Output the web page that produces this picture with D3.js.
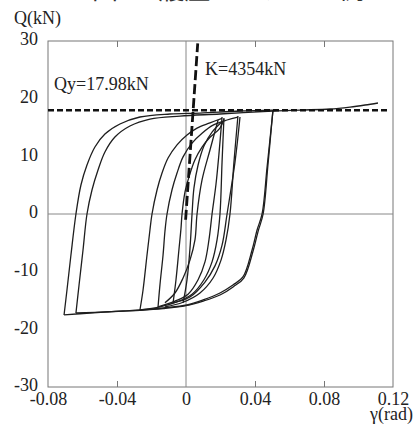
<!DOCTYPE html>
<html><head><meta charset="utf-8">
<script src="https://cdn.jsdelivr.net/npm/d3@7"></script>
<style>
html,body{margin:0;padding:0;background:#fff;}
svg{display:block;}
</style></head>
<body>
<script>
// ---- data ----
const titleText = "図5　履歴ループの一例";
const xTicks = [-0.08, -0.04, 0, 0.04, 0.08, 0.12];
const xTickLabels = ["-0.08", "-0.04", "0", "0.04", "0.08", "0.12"];
const yTicks = [-30, -20, -10, 0, 10, 20, 30];
const yTickLabels = ["-30", "-20", "-10", "0", "10", "20", "30"];
const Qy = 17.98;
const K = 4354;
const kLineQ = [-1, 29.6];
// hysteresis branches [gamma(rad), Q(kN)]
const unloadBig1 = [[0.0504,17.86],[0.0470,8.15],[0.0441,0],[0.0412,-2.77],[0.0383,-6.24],[0.0330,-10.92],[0.0272,-12.31],[0.0197,-13.70],[0.0099,-14.91],[0.0006,-15.78],[-0.0133,-16.30],[-0.0267,-16.65],[-0.0365,-16.82],[-0.0557,-17.17],[-0.0707,-17.51]];
const reloadBig1 = [[-0.0707,-17.51],[-0.0690,-13.18],[-0.0667,-7.11],[-0.0638,0],[-0.0609,5.03],[-0.0574,8.50],[-0.0528,11.62],[-0.0470,13.87],[-0.0383,15.61],[-0.0267,16.82],[-0.0093,17.34],[0.0081,17.51],[0.0313,17.86],[0.0504,18.03]];
const unloadBig2 = [[0.0504,18.03],[0.0475,8.5],[0.0447,0],[0.0418,-3.0],[0.0388,-6.5],[0.0335,-11.1],[0.0275,-12.6],[0.0200,-14.0],[0.0100,-15.1],[0.0,-15.9],[-0.0133,-16.4],[-0.0267,-16.7],[-0.0450,-16.95],[-0.0638,-17.17]];
const reloadBig2 = [[-0.0638,-17.17],[-0.0620,-12.31],[-0.0597,-6.24],[-0.0574,0],[-0.0545,4.16],[-0.0510,7.63],[-0.0470,10.75],[-0.0412,13.35],[-0.0325,15.26],[-0.0209,16.47],[-0.0035,16.99],[0.0197,17.34],[0.0504,17.86],[0.0661,18.03],[0.0835,18.21],[0.0951,18.55],[0.1038,18.90],[0.1113,19.25]];
const reload1 = [[-0.0267,-16.65],[-0.0249,-13.18],[-0.0226,-7.11],[-0.0209,-2.77],[-0.0197,0],[-0.0168,4.16],[-0.0139,7.1],[-0.0104,9.7],[-0.0052,12.0],[0.0006,13.7],[0.0064,14.9],[0.0139,15.8],[0.0209,16.6]];
const reload2 = [[-0.0162,-16.13],[-0.0151,-12.3],[-0.0133,-7.1],[-0.0122,-3.0],[-0.0110,0],[-0.0081,4.2],[-0.0052,7.1],[-0.0017,9.9],[0.0035,12.3],[0.0093,14.0],[0.0157,15.4],[0.0238,16.3],[0.0301,16.8]];
const reload3 = [[-0.0075,-15.43],[-0.0058,-11.4],[-0.0041,-6.2],[-0.0029,-2.5],[-0.0023,0],[-0.0006,3.8],[0.0017,6.4],[0.0052,9.4],[0.0093,11.6],[0.0139,13.3],[0.0197,14.9],[0.0220,16.5]];
const reload4 = [[-0.0017,-15.43],[0.0006,-11.4],[0.0023,-6.0],[0.0035,0],[0.0046,4.5],[0.0070,8.5],[0.0104,11.8],[0.0151,14.2],[0.0209,16.0]];
const unload1 = [[0.0209,16.82],[0.0191,10.4],[0.0174,5.2],[0.0151,0],[0.0133,-4.5],[0.0110,-8.3],[0.0070,-11.4],[0.0012,-13.9],[-0.0064,-15.1],[-0.0162,-16.1]];
const unload2 = [[0.0220,16.65],[0.0209,9.0],[0.0197,0],[0.0180,-4.5],[0.0151,-8.3],[0.0104,-11.4],[0.0035,-13.9],[-0.0058,-15.3],[-0.0151,-16.1],[-0.0267,-16.65]];
const unload3 = [[0.0301,16.99],[0.0278,9.0],[0.0255,0],[0.0232,-4.5],[0.0203,-8.0],[0.0157,-11.1],[0.0081,-13.7],[-0.0017,-15.3],[-0.0122,-16.1]];
const unload4 = [[0.0313,16.82],[0.0284,9.0],[0.0238,0],[0.0209,-5.4],[0.0168,-9.0],[0.0110,-11.8],[0.0023,-14.4],[-0.0075,-15.43]];
const unload5 = [[0.0186,16.30],[0.0139,11.1],[0.0093,5.9],[0.0064,0],[0.0052,-4.5],[0.0023,-8.0],[-0.0017,-11.1],[-0.0064,-13.7],[-0.0122,-15.4]];
const branches = [unloadBig1, reloadBig1, unloadBig2, reloadBig2, reload1, reload2, reload3, reload4, unload1, unload2, unload3, unload4, unload5];

// ---- drawing ----
const SERIF = '"Liberation Serif", "Tinos", "DejaVu Serif", "Times New Roman", serif';
const W = 418, H = 425;
const svg = d3.select("body").append("svg").attr("width", W).attr("height", H);
const x = d3.scaleLinear().domain([-0.08, 0.12]).range([48, 393]);
const y = d3.scaleLinear().domain([-30, 30]).range([387, 41]);

// title (clipped at top, as in the source figure)
svg.append("text").attr("x", 92).attr("y", -1)
  .attr("font-family", '"Noto Sans CJK JP", "Noto Sans CJK SC", sans-serif').attr("font-size", 26)
  .attr("fill", "#333").text(titleText);

// frame
svg.append("rect").attr("x", x(-0.08)).attr("y", y(30))
  .attr("width", x(0.12) - x(-0.08)).attr("height", y(-30) - y(30))
  .attr("fill", "none").attr("stroke", "#777").attr("stroke-width", 1);

// zero lines
svg.append("line").attr("x1", x(0)).attr("x2", x(0)).attr("y1", y(30)).attr("y2", y(-30))
  .attr("stroke", "#888").attr("stroke-width", 1);
svg.append("line").attr("x1", x(-0.08)).attr("x2", x(0.12)).attr("y1", y(0)).attr("y2", y(0))
  .attr("stroke", "#888").attr("stroke-width", 1);

// axes
const innerTicks = xTicks.filter(v => v !== 0 && v !== -0.08 && v !== 0.12);
const gb = svg.append("g").attr("transform", `translate(0,${y(-30)})`)
  .call(d3.axisBottom(x).tickValues(xTicks).tickFormat((d,i) => xTickLabels[i]).tickSizeInner(0).tickSizeOuter(0).tickPadding(5));
gb.attr("font-family", SERIF).attr("font-size", 18);
gb.select(".domain").remove();
gb.selectAll("text").attr("fill", "#222");
const gb2 = svg.append("g").attr("transform", `translate(0,${y(-30)})`)
  .call(d3.axisBottom(x).tickValues(innerTicks).tickFormat("").tickSizeInner(-6).tickSizeOuter(0));
gb2.select(".domain").remove();
gb2.selectAll("line").attr("stroke", "#777");
const gt = svg.append("g").attr("transform", `translate(0,${y(30)})`)
  .call(d3.axisTop(x).tickValues(innerTicks).tickFormat("").tickSizeInner(-6).tickSizeOuter(0));
gt.select(".domain").remove();
gt.selectAll("line").attr("stroke", "#777");

const gl = svg.append("g").attr("transform", `translate(${x(-0.08)},0)`)
  .call(d3.axisLeft(y).tickValues(yTicks).tickFormat((d,i) => yTickLabels[i]).tickSizeInner(0).tickSizeOuter(0).tickPadding(10));
gl.attr("font-family", SERIF).attr("font-size", 18);
gl.select(".domain").remove();
gl.selectAll("text").attr("fill", "#222").attr("dy", "0.22em");

// axis titles
svg.append("text").attr("x", 14).attr("y", 24).attr("font-family", SERIF).attr("font-size", 18).attr("fill", "#222").text("Q(kN)");
svg.append("text").attr("x", 413).attr("y", 420).attr("text-anchor", "end").attr("font-family", SERIF).attr("font-size", 18).attr("fill", "#222").text("γ(rad)");

// hysteresis curves
const line = d3.line().x(d => x(d[0])).y(d => y(d[1])).curve(d3.curveCatmullRom.alpha(0.5));
svg.append("g").selectAll("path").data(branches).join("path")
  .attr("d", line).attr("fill", "none").attr("stroke", "#1e1e1e").attr("stroke-width", 1.3);

// Qy line
svg.append("line").attr("x1", x(-0.08)).attr("x2", x(0.118)).attr("y1", y(Qy)).attr("y2", y(Qy))
  .attr("stroke", "#111").attr("stroke-width", 2.6).attr("stroke-dasharray", "6,3");
// K line
svg.append("line").attr("x1", x(kLineQ[0] / K)).attr("x2", x(kLineQ[1] / K))
  .attr("y1", y(kLineQ[0])).attr("y2", y(kLineQ[1]))
  .attr("stroke", "#111").attr("stroke-width", 2.8).attr("stroke-dasharray", "10,4");

// annotations
svg.append("text").attr("x", 54).attr("y", 90).attr("font-family", SERIF).attr("font-size", 18).attr("fill", "#222").text("Qy=17.98kN");
svg.append("text").attr("x", 205).attr("y", 75).attr("font-family", SERIF).attr("font-size", 18).attr("fill", "#222").text("K=4354kN");
</script>
</body></html>
